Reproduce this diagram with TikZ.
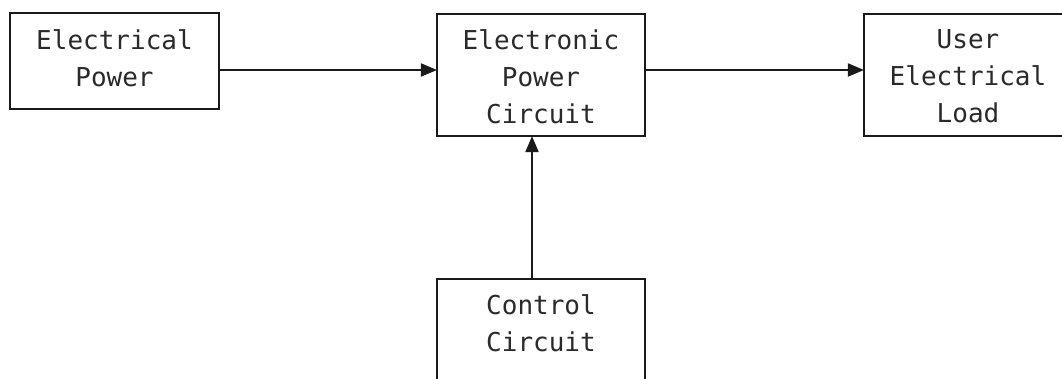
\documentclass[tikz,border=0pt]{standalone}
\usepackage{fontspec}
\setmonofont{DejaVu Sans Mono}
\usetikzlibrary{arrows.meta}
\definecolor{linec}{HTML}{1A1A1A}
\definecolor{textc}{HTML}{2A2A2A}
\tikzset{
  blockbox/.style={draw=linec, line width=2.2pt, fill=white, inner sep=0pt},
  blocktext/.style={align=center, text=textc, font=\ttfamily\fontsize{26}{37}\selectfont, inner sep=0pt},
  conn/.style={draw=linec, line width=2pt, -{Triangle[length=16pt,width=13pt]}, shorten >=-1pt}
}
\begin{document}
\begin{tikzpicture}[x=1pt,y=-1pt]
\useasboundingbox (0,0) rectangle (1062,379);
\clip (0,0) rectangle (1062,379);
\fill[white] (0,0) rectangle (1062,379);
\node[blockbox, minimum width=209pt, minimum height=96pt] (ep) at (114.5,61) {};
\node[blocktext] (ept) at (114.5,58) {Electrical\\Power};
\node[blockbox, minimum width=208pt, minimum height=122pt] (epc) at (541,75) {};
\node[blocktext] (epct) at (541,77) {Electronic\\Power\\Circuit};
\node[blockbox, minimum width=208pt, minimum height=122pt] (uel) at (968,75) {};
\node[blocktext] (uelt) at (968,76) {User\\Electrical\\Load};
\node[blockbox, minimum width=208pt, minimum height=122pt] (cc) at (541,340) {};
\node[blocktext] (cct) at (541,323) {Control\\Circuit};
\draw[conn] (ep.east |- 0,70) -- (epc.west |- 0,70);
\draw[conn] (epc.east |- 0,70) -- (uel.west |- 0,70);
\draw[conn] (cc.north -| 532,0) -- (epc.south -| 532,0);
\end{tikzpicture}
\end{document}
